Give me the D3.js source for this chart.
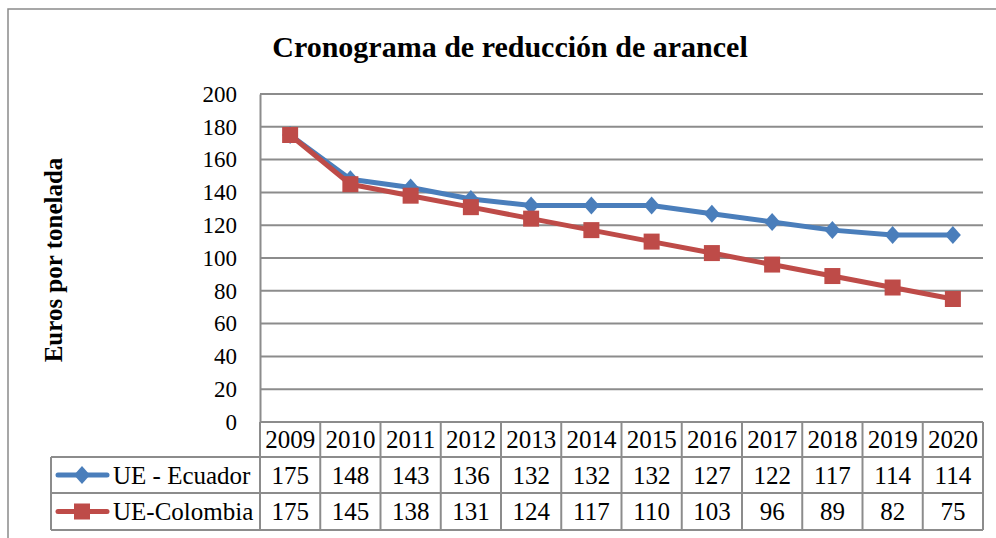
<!DOCTYPE html>
<html>
<head>
<meta charset="utf-8">
<script src="https://cdn.jsdelivr.net/npm/d3@7"></script>
<style>
  body { margin: 0; background: #fff; }
  svg { display: block; }
  text { font-family: "Liberation Serif", "Times New Roman", serif; fill: #000; }
</style>
</head>
<body>
<script>
const years = ['2009', '2010', '2011', '2012', '2013', '2014', '2015', '2016', '2017', '2018', '2019', '2020'];
const ecuador = [175, 148, 143, 136, 132, 132, 132, 127, 122, 117, 114, 114];
const colombia = [175, 145, 138, 131, 124, 117, 110, 103, 96, 89, 82, 75];
const yTicks = [0, 20, 40, 60, 80, 100, 120, 140, 160, 180, 200];

const series = [
    { name: 'UE - Ecuador', values: ecuador, color: '#4A7EBB', shape: 'diamond' },
    { name: 'UE-Colombia', values: colombia, color: '#BE4B48', shape: 'square' }
];

const width = 996;
const height = 538;
const serif = '"Liberation Serif", "Times New Roman", serif';
const gridColor = '#8c8c8c';

const svg = d3.select('body').append('svg')
    .attr('width', width)
    .attr('height', height);

// marco exterior del gráfico
svg.append('rect')
    .attr('x', 8).attr('y', 9)
    .attr('width', 1100).attr('height', 700)
    .attr('fill', 'none')
    .attr('stroke', '#8a8a8a')
    .attr('stroke-width', 1.5);

const x = d3.scaleBand().domain(years).range([260, 983]);
const y = d3.scaleLinear().domain([0, 200]).range([422, 94]);

svg.append('text')
    .attr('x', 510).attr('y', 57)
    .attr('text-anchor', 'middle')
    .style('font-size', '30px')
    .style('font-weight', 'bold')
    .text('Cronograma de reducción de arancel');

svg.append('text')
    .attr('transform', 'translate(62,260) rotate(-90)')
    .attr('text-anchor', 'middle')
    .style('font-size', '25px')
    .style('font-weight', 'bold')
    .text('Euros por tonelada');

// líneas de cuadrícula
svg.append('g')
    .selectAll('line')
    .data(yTicks.filter(d => d > 0))
    .enter().append('line')
    .attr('x1', 260).attr('x2', 983)
    .attr('y1', d => y(d)).attr('y2', d => y(d))
    .attr('stroke', gridColor)
    .attr('stroke-width', 2);

// eje y
const yAxis = svg.append('g')
    .attr('transform', 'translate(260,0)')
    .call(d3.axisLeft(y).tickValues(yTicks).tickSize(0).tickPadding(23))
    .attr('font-family', serif)
    .attr('font-size', 23);
yAxis.select('.domain').attr('stroke', gridColor).attr('stroke-width', 2);
yAxis.selectAll('text').attr('fill', '#000');

// tabla de datos
const rowTops = [422, 457, 493, 530];
const table = svg.append('g');

rowTops.forEach((top, i) => {
    table.append('line')
        .attr('x1', i === 0 ? 260 : 51).attr('x2', 983)
        .attr('y1', top).attr('y2', top)
        .attr('stroke', gridColor).attr('stroke-width', 2);
});

years.forEach(yr => {
    table.append('line')
        .attr('x1', x(yr)).attr('x2', x(yr))
        .attr('y1', 422).attr('y2', 530)
        .attr('stroke', gridColor).attr('stroke-width', 2);
});
table.append('line')
    .attr('x1', 983).attr('x2', 983).attr('y1', 422).attr('y2', 530)
    .attr('stroke', gridColor).attr('stroke-width', 2);
table.append('line')
    .attr('x1', 51).attr('x2', 51).attr('y1', 457).attr('y2', 530)
    .attr('stroke', gridColor).attr('stroke-width', 2);

table.selectAll('text.year')
    .data(years)
    .enter().append('text')
    .attr('class', 'year')
    .attr('x', d => x(d) + x.bandwidth() / 2)
    .attr('y', (rowTops[0] + rowTops[1]) / 2)
    .attr('dy', '0.35em')
    .attr('text-anchor', 'middle')
    .style('font-size', '25px')
    .text(d => d);

function drawMarker(g, shape, color, cx, cy) {
    if (shape === 'diamond') {
        g.append('path')
            .attr('d', `M${cx},${cy - 9}L${cx + 8},${cy}L${cx},${cy + 9}L${cx - 8},${cy}Z`)
            .attr('fill', color);
    } else {
        g.append('rect')
            .attr('x', cx - 8).attr('y', cy - 8)
            .attr('width', 16).attr('height', 16)
            .attr('fill', color);
    }
}

series.forEach((s, i) => {
    const cy = (rowTops[i + 1] + rowTops[i + 2]) / 2;
    table.append('line')
        .attr('x1', 58).attr('x2', 107)
        .attr('y1', cy).attr('y2', cy)
        .attr('stroke', s.color).attr('stroke-width', 5)
        .attr('stroke-linecap', 'round');
    drawMarker(table, s.shape, s.color, 82, cy);
    table.append('text')
        .attr('x', 113).attr('y', cy)
        .attr('dy', '0.35em')
        .style('font-size', '25px')
        .text(s.name);
    table.selectAll(null)
        .data(s.values)
        .enter().append('text')
        .attr('x', (d, j) => x(years[j]) + x.bandwidth() / 2)
        .attr('y', cy)
        .attr('dy', '0.35em')
        .attr('text-anchor', 'middle')
        .style('font-size', '25px')
        .text(d => d);
});

// series
const line = d3.line()
    .x((d, j) => x(years[j]) + x.bandwidth() / 2)
    .y(d => y(d));

series.forEach(s => {
    const g = svg.append('g');
    g.append('path')
        .datum(s.values)
        .attr('d', line)
        .attr('fill', 'none')
        .attr('stroke', s.color)
        .attr('stroke-width', 5)
        .attr('stroke-linejoin', 'round');
    s.values.forEach((v, j) => {
        drawMarker(g, s.shape, s.color, x(years[j]) + x.bandwidth() / 2, y(v));
    });
});
</script>
</body>
</html>
